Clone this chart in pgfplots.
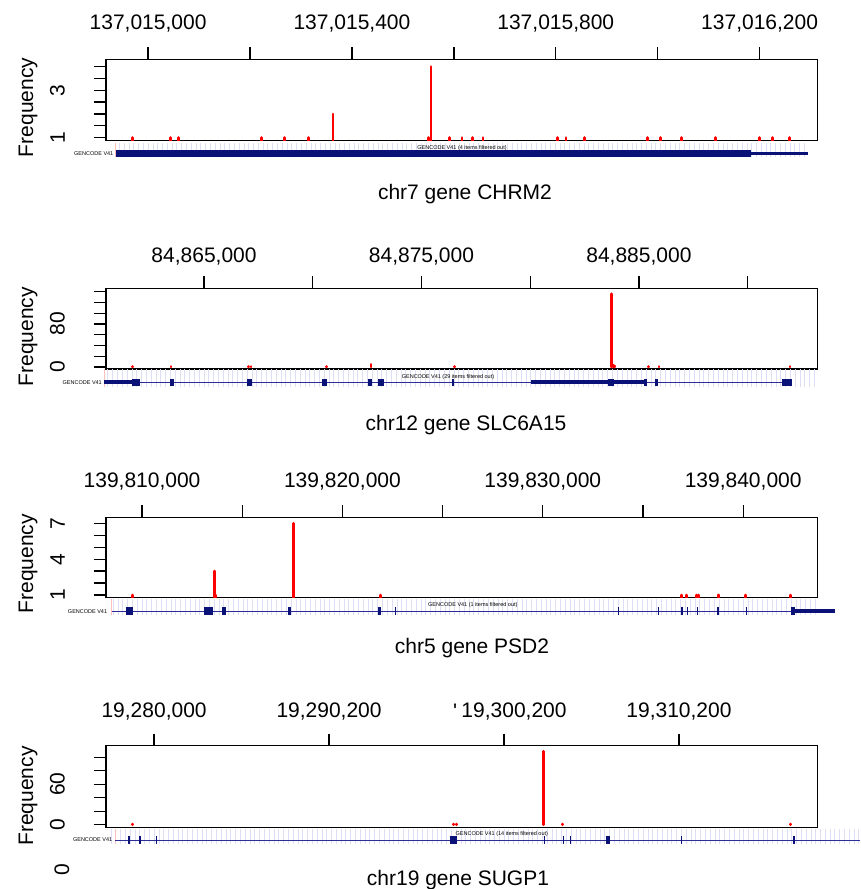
\documentclass[border=0pt]{standalone}
\usepackage{fontspec}
\setmainfont{Liberation Sans}
\setsansfont{Liberation Sans}
\usepackage{graphicx}
\usepackage{pgfplots}
\pgfplotsset{compat=1.18}
\definecolor{exon}{RGB}{10,18,120}
\definecolor{intron}{RGB}{45,45,150}
\definecolor{hatch}{RGB}{222,222,244}
\definecolor{startmark}{RGB}{255,190,190}
\definecolor{spike}{RGB}{255,0,0}
\newcommand{\bigf}{\fontsize{21}{21}\selectfont}
\newcommand{\tinyf}{\fontsize{5.5}{5.5}\selectfont}
\newcommand{\rl}[1]{\rotatebox{90}{#1}}
\pgfplotsset{
  freqaxis/.style={
    scale only axis, width=711.5pt, anchor=north west,
    axis line style={line width=1.3pt},
    tick style={line width=1.3pt, black},
    tick align=outside, major tick length=12pt,
    xtick pos=right, xticklabel pos=right, ytick pos=left,
    scaled x ticks=false, scaled y ticks=false,
    tick label style={font=\bigf},
    yticklabel style={anchor=east, inner sep=0pt, xshift=-29pt},
  },
  xlab/.style={xticklabel style={anchor=base, inner sep=0pt, yshift=#1}},
  spikes/.style={ycomb, spike, line width=2.8pt, line cap=round, mark=none},
  track/.style={
    scale only axis, anchor=north west, clip=false,
    axis line style={draw=none}, major tick length=0pt, ytick=\empty,
    scaled x ticks=false,
    xtick style={draw=none}, xticklabels={}, xmajorgrids,
    grid style={hatch, line width=0.8pt},
  },
  exonsty/.style={exon, line width=#1, line cap=butt, unbounded coords=jump, mark=none},
  intronsty/.style={intron, line width=1pt, mark=none},
  startsty/.style={startmark, line width=0.8pt, mark=none},
}
\begin{document}
\begin{tikzpicture}
\path[use as bounding box] (0,0) rectangle (860pt,-889pt);

% ---------------- Panel 1: chr7 CHRM2 (x = position - 137,015,000)
\begin{axis}[freqaxis, xlab=18pt, at={(106pt,-59.3pt)}, height=81.4pt,
  xmin=-82.6, xmax=1313.6, ymin=0.87, ymax=4.31,
  xtick={0,200,400,600,800,1000,1200},
  xticklabels={{137,015,000},{},{137,015,400},{},{137,015,800},{},{137,016,200}},
  ytick={1,1.5,2,2.5,3,3.5,4}, yticklabels={\rl{1},{},{},{},\rl{3},{},{}}]
\addplot[spikes] coordinates {(-30,1)(44,1)(59,1)(223,1)(268,1)(315,1)(363,2)(551,1)(555,4)(592,1)(616,1)(637,1)(657,1)(803,1)(820,1)(857,1)(980,1)(1006,1)(1047,1)(1113,1)(1199,1)(1225,1)(1259,1)};
\end{axis}
\begin{axis}[track, at={(115.5pt,-143.3pt)}, width=692.5pt, height=13.7pt,
  xmin=-64, xmax=1294.9, ymin=-3.7, ymax=10, xtick distance=9.4]
\addplot[startsty] coordinates {(-64,-3.7)(-64,10)};
\addplot[exonsty=6.7pt] coordinates {(-64,0)(1184,0)};
\addplot[exonsty=3.6pt] coordinates {(1184,0)(1295,0)};
\end{axis}

% ---------------- Panel 2: chr12 SLC6A15 (x = position - 84,865,000)
\begin{axis}[freqaxis, xlab=14pt, at={(106pt,-288.3pt)}, height=80.7pt,
  xmin=-4507, xmax=28212, ymin=-3.7, ymax=146.3,
  xtick={0,5000,10000,15000,20000,25000},
  xticklabels={{84,865,000},{},{84,875,000},{},{84,885,000},{}},
  ytick={0,20,40,60,80,100,120,140}, yticklabels={\rl{0},{},{},{},\rl{80},{},{},{}}]
\addplot[spikes] coordinates {(-3279,1)(-1518,1)(2037,1)(2161,1)(5642,1)(7680,5)(11510,1)(18748,136)(18820,3)(18877,2)(20431,1)(20923,1)(26947,1)};
\end{axis}
\begin{axis}[track, at={(104pt,-369pt)}, width=713pt, height=17.7pt,
  xmin=-4599, xmax=28189, ymin=-4.4, ymax=13.3, xtick distance=221]
\addplot[startsty] coordinates {(-4599,-4.4)(-4599,13.3)};
\addplot[intronsty] coordinates {(-4599,0)(27025,0)};
\addplot[exonsty=4.3pt] coordinates {(-4599,0)(-3325,0)(nan,nan)(15037,0)(18592,0)(nan,nan)(18868,0)(20280,0)};
\addplot[exonsty=6.7pt] coordinates {(-3325,0)(-2943,0)(nan,nan)(-1563,0)(-1366,0)(nan,nan)(1991,0)(2207,0)(nan,nan)(5440,0)(5642,0)(nan,nan)(7528,0)(7739,0)(nan,nan)(8015,0)(8264,0)(nan,nan)(11391,0)(11496,0)(nan,nan)(18592,0)(18868,0)(nan,nan)(20234,0)(20358,0)(nan,nan)(20725,0)(20877,0)(nan,nan)(26565,0)(27025,0)};
\end{axis}

% ---------------- Panel 3: chr5 PSD2 (x = position - 139,810,000)
\begin{axis}[freqaxis, xlab=17.5pt, at={(106pt,-517.3pt)}, height=80pt,
  xmin=-1799, xmax=33710, ymin=0.81, ymax=7.5,
  xtick={0,5000,10000,15000,20000,25000,30000},
  xticklabels={{139,810,000},{},{139,820,000},{},{139,830,000},{},{139,840,000}},
  ytick={1,2,3,4,5,6,7}, yticklabels={\rl{1},{},{},\rl{4},{},{},\rl{7}}]
\addplot[spikes] coordinates {(-486,1)(3606,3)(3666,1)(7549,7)(11910,1)(26933,1)(27183,1)(27672,1)(27757,1)(28741,1)(28795,1)(30107,1)(32353,1)};
\end{axis}
\begin{axis}[track, at={(111pt,-599.3pt)}, width=706pt, height=15.4pt,
  xmin=-1550, xmax=33685, ymin=-3.7, ymax=11.7, xtick distance=240]
\addplot[startsty] coordinates {(-1514,-3.7)(-1514,11.7)};
\addplot[intronsty] coordinates {(-1514,0)(34570,0)};
\addplot[exonsty=4.3pt] coordinates {(32603,0)(34570,0)};
\addplot[exonsty=7.7pt] coordinates {(-815,0)(-436,0)(nan,nan)(3107,0)(3556,0)(nan,nan)(3990,0)(4175,0)(nan,nan)(7300,0)(7420,0)(nan,nan)(11791,0)(11911,0)(nan,nan)(12600,0)(12680,0)(nan,nan)(23730,0)(23800,0)(nan,nan)(25740,0)(25775,0)(nan,nan)(26880,0)(26980,0)(nan,nan)(27190,0)(27235,0)(nan,nan)(27690,0)(27770,0)(nan,nan)(28700,0)(28790,0)(nan,nan)(30120,0)(30210,0)(nan,nan)(32383,0)(32603,0)};
\end{axis}

% ---------------- Panel 4: chr19 SUGP1 (x = position - 19,280,000)
\begin{axis}[freqaxis, xlab=16pt, at={(106pt,-745.7pt)}, height=81.6pt,
  xmin=-2749, xmax=37917, ymin=-3.9, ymax=117.2,
  xtick={0,10000,20000,30000},
  xticklabels={{19,280,000},{19,290,200},{\hspace*{20pt}19,300,200},{19,310,200}},
  ytick={0,20,40,60,80,100}, yticklabels={\rl{0},{},{},\rl{60},{},{}}]
\addplot[spikes] coordinates {(-1223,1)(17118,1)(17272,1)(22245,109)(23331,1)(36363,1)};
\end{axis}
\begin{axis}[track, at={(110pt,-829.3pt)}, width=750pt, height=15pt,
  xmin=-2521, xmax=40344, ymin=-4.3, ymax=10.7, xtick distance=274]
\addplot[startsty] coordinates {(-2223,-4.3)(-2223,10.7)};
\addplot[intronsty] coordinates {(-2223,0)(40344,0)};
\addplot[exonsty=7.3pt] coordinates {(-1470,0)(-1350,0)(nan,nan)(-870,0)(-750,0)(nan,nan)(100,0)(160,0)(nan,nan)(16895,0)(17307,0)(nan,nan)(22260,0)(22320,0)(nan,nan)(23350,0)(23420,0)(nan,nan)(23760,0)(23830,0)(nan,nan)(25800,0)(26052,0)(nan,nan)(30130,0)(30180,0)(nan,nan)(36500,0)(36600,0)};
\end{axis}

% ---------------- texts
\foreach \yc in {107.5,336.7,563.7,796}{
  \node[rotate=90, font=\bigf, inner sep=0pt] at (28pt,-\yc pt) {Frequency};
}
\node[font=\bigf, anchor=base, inner sep=0pt] at (465pt,-199pt) {chr7 gene CHRM2};
\node[font=\bigf, anchor=base, inner sep=0pt] at (466pt,-430pt) {chr12 gene SLC6A15};
\node[font=\bigf, anchor=base, inner sep=0pt] at (472pt,-653pt) {chr5 gene PSD2};
\node[font=\bigf, anchor=base, inner sep=0pt] at (458pt,-885pt) {chr19 gene SUGP1};

\node[font=\tinyf, inner sep=0pt] at (462pt,-147.7pt) {GENCODE V41 (4 items filtered out)};
\node[font=\tinyf, inner sep=0pt] at (448pt,-376.7pt) {GENCODE V41 (29 items filtered out)};
\node[font=\tinyf, inner sep=0pt] at (472.8pt,-605pt) {GENCODE V41 (1 items filtered out)};
\node[font=\tinyf, inner sep=0pt] at (501.8pt,-834pt) {GENCODE V41 (14 items filtered out)};

\node[font=\tinyf, inner sep=0pt, anchor=east] at (113.5pt,-153.7pt) {GENCODE V41};
\node[font=\tinyf, inner sep=0pt, anchor=east] at (102pt,-382.7pt) {GENCODE V41};
\node[font=\tinyf, inner sep=0pt, anchor=east] at (107.3pt,-611.3pt) {GENCODE V41};
\node[font=\tinyf, inner sep=0pt, anchor=east] at (112.4pt,-840pt) {GENCODE V41};

\node[rotate=90, font=\bigf, inner sep=0pt] at (62pt,-870pt) {0};
\node[font=\bigf, inner sep=0pt, anchor=north] at (455pt,-704pt) {\textquotesingle};
\end{tikzpicture}
\end{document}
